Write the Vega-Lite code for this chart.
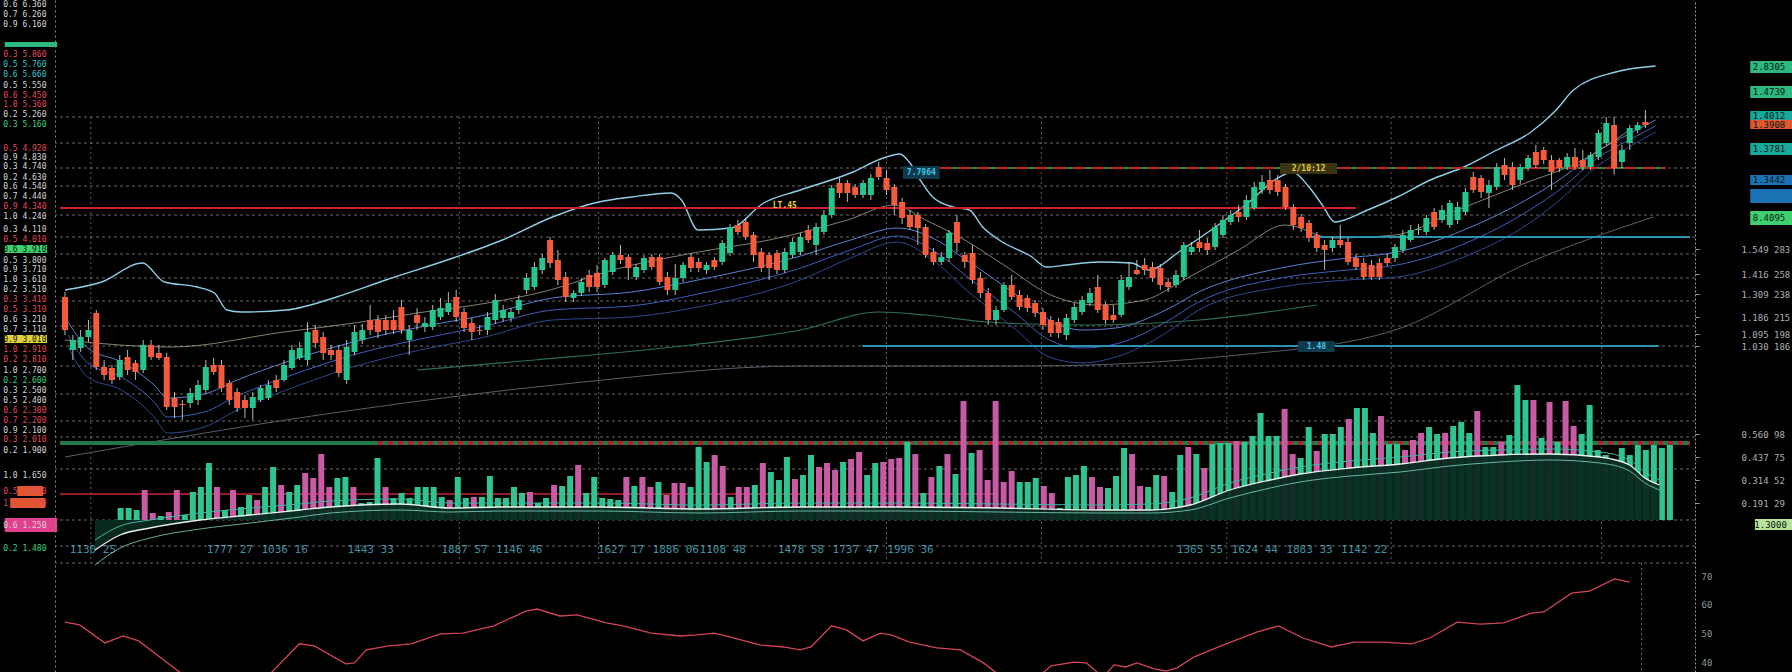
{
"$schema":"https://vega.github.io/schema/vega-lite/v6.json",
"width":1640,"height":672,
"autosize":{"type":"none"},
"padding":{"left":55,"right":97,"top":0,"bottom":0},
"background":"#000000",
"config":{"view":{"stroke":null},"axis":{"grid":false,"titleOpacity":0,"titleFontSize":1,"labelOverlap":false},"text":{"font":"DejaVu Sans Mono"}},
"datasets":{
"k":[
{"t":0,"o":223,"h":228,"l":185,"c":190},{"t":1,"o":170,"h":185,"l":160,"c":180},{"t":2,"o":172,"h":190,"l":168,"c":183},{"t":3,"o":183,"h":200,"l":178,"c":190},{"t":4,"o":207,"h":210,"l":150,"c":153},{"t":5,"o":153,"h":160,"l":140,"c":145},{"t":6,"o":152,"h":155,"l":136,"c":140},{"t":7,"o":143,"h":165,"l":140,"c":160},{"t":8,"o":163,"h":170,"l":145,"c":150},{"t":9,"o":157,"h":160,"l":140,"c":148},
{"t":10,"o":150,"h":180,"l":147,"c":175},{"t":11,"o":175,"h":180,"l":160,"c":163},{"t":12,"o":167,"h":175,"l":160,"c":162},{"t":13,"o":163,"h":167,"l":110,"c":113},{"t":14,"o":122,"h":128,"l":102,"c":113},{"t":15,"o":116,"h":120,"l":100,"c":115},{"t":16,"o":117,"h":132,"l":112,"c":127},{"t":17,"o":120,"h":140,"l":115,"c":135},{"t":18,"o":130,"h":160,"l":127,"c":153},{"t":19,"o":155,"h":162,"l":145,"c":148},
{"t":20,"o":155,"h":160,"l":128,"c":132},{"t":21,"o":137,"h":140,"l":115,"c":120},{"t":22,"o":128,"h":132,"l":108,"c":112},{"t":23,"o":120,"h":125,"l":102,"c":112},{"t":24,"o":112,"h":128,"l":100,"c":123},{"t":25,"o":120,"h":135,"l":118,"c":132},{"t":26,"o":122,"h":140,"l":120,"c":135},{"t":27,"o":140,"h":145,"l":128,"c":132},{"t":28,"o":140,"h":160,"l":138,"c":155},{"t":29,"o":152,"h":175,"l":150,"c":170},
{"t":30,"o":162,"h":178,"l":160,"c":172},{"t":31,"o":160,"h":198,"l":155,"c":188},{"t":32,"o":190,"h":195,"l":172,"c":177},{"t":33,"o":183,"h":188,"l":160,"c":167},{"t":34,"o":170,"h":175,"l":160,"c":165},{"t":35,"o":170,"h":175,"l":143,"c":147},{"t":36,"o":140,"h":180,"l":136,"c":173},{"t":37,"o":168,"h":195,"l":165,"c":188},{"t":38,"o":180,"h":196,"l":176,"c":190},{"t":39,"o":200,"h":215,"l":185,"c":190},
{"t":40,"o":200,"h":205,"l":182,"c":188},{"t":41,"o":200,"h":205,"l":185,"c":190},{"t":42,"o":200,"h":210,"l":186,"c":190},{"t":43,"o":213,"h":220,"l":186,"c":190},{"t":44,"o":180,"h":195,"l":165,"c":190},{"t":45,"o":205,"h":212,"l":190,"c":197},{"t":46,"o":193,"h":203,"l":188,"c":197},{"t":47,"o":193,"h":215,"l":190,"c":210},{"t":48,"o":203,"h":222,"l":200,"c":212},{"t":49,"o":208,"h":228,"l":205,"c":217},
{"t":50,"o":223,"h":230,"l":198,"c":203},{"t":51,"o":208,"h":212,"l":188,"c":192},{"t":52,"o":197,"h":202,"l":180,"c":188},{"t":53,"o":190,"h":195,"l":185,"c":189},{"t":54,"o":190,"h":208,"l":185,"c":203},{"t":55,"o":200,"h":226,"l":196,"c":220},{"t":56,"o":202,"h":215,"l":198,"c":210},{"t":57,"o":202,"h":212,"l":198,"c":208},{"t":58,"o":210,"h":225,"l":206,"c":220},{"t":59,"o":230,"h":247,"l":226,"c":242},
{"t":60,"o":233,"h":258,"l":230,"c":253},{"t":61,"o":250,"h":266,"l":246,"c":262},{"t":62,"o":280,"h":283,"l":252,"c":257},{"t":63,"o":260,"h":270,"l":235,"c":240},{"t":64,"o":243,"h":248,"l":218,"c":223},{"t":65,"o":222,"h":230,"l":218,"c":227},{"t":66,"o":227,"h":242,"l":224,"c":238},{"t":67,"o":245,"h":250,"l":228,"c":233},{"t":68,"o":247,"h":255,"l":228,"c":233},{"t":69,"o":235,"h":262,"l":232,"c":260},
{"t":70,"o":248,"h":268,"l":245,"c":265},{"t":71,"o":265,"h":275,"l":256,"c":260},{"t":72,"o":263,"h":266,"l":240,"c":252},{"t":73,"o":243,"h":256,"l":240,"c":253},{"t":74,"o":250,"h":265,"l":247,"c":262},{"t":75,"o":263,"h":266,"l":250,"c":253},{"t":76,"o":263,"h":266,"l":235,"c":238},{"t":77,"o":243,"h":248,"l":225,"c":230},{"t":78,"o":230,"h":256,"l":225,"c":242},{"t":79,"o":242,"h":258,"l":238,"c":255},
{"t":80,"o":263,"h":266,"l":248,"c":252},{"t":81,"o":258,"h":262,"l":248,"c":252},{"t":82,"o":250,"h":258,"l":246,"c":255},{"t":83,"o":260,"h":263,"l":250,"c":253},{"t":84,"o":258,"h":280,"l":255,"c":277},{"t":85,"o":267,"h":296,"l":264,"c":293},{"t":86,"o":295,"h":300,"l":285,"c":288},{"t":87,"o":298,"h":302,"l":280,"c":283},{"t":88,"o":285,"h":288,"l":258,"c":265},{"t":89,"o":268,"h":272,"l":248,"c":252},
{"t":90,"o":265,"h":268,"l":240,"c":252},{"t":91,"o":267,"h":270,"l":246,"c":250},{"t":92,"o":250,"h":272,"l":247,"c":268},{"t":93,"o":265,"h":282,"l":262,"c":278},{"t":94,"o":268,"h":287,"l":265,"c":283},{"t":95,"o":290,"h":295,"l":277,"c":280},{"t":96,"o":275,"h":297,"l":265,"c":293},{"t":97,"o":288,"h":310,"l":285,"c":305},{"t":98,"o":305,"h":335,"l":302,"c":332},{"t":99,"o":337,"h":342,"l":322,"c":327},
{"t":100,"o":337,"h":340,"l":318,"c":327},{"t":101,"o":333,"h":336,"l":322,"c":325},{"t":102,"o":325,"h":340,"l":322,"c":337},{"t":103,"o":325,"h":346,"l":320,"c":342},{"t":104,"o":353,"h":358,"l":340,"c":343},{"t":105,"o":342,"h":350,"l":325,"c":330},{"t":106,"o":333,"h":336,"l":305,"c":315},{"t":107,"o":318,"h":322,"l":296,"c":302},{"t":108,"o":305,"h":310,"l":290,"c":293},{"t":109,"o":305,"h":308,"l":275,"c":292},
{"t":110,"o":293,"h":296,"l":262,"c":265},{"t":111,"o":268,"h":272,"l":255,"c":258},{"t":112,"o":258,"h":268,"l":255,"c":263},{"t":113,"o":262,"h":290,"l":258,"c":287},{"t":114,"o":298,"h":305,"l":268,"c":277},{"t":115,"o":265,"h":268,"l":252,"c":258},{"t":116,"o":267,"h":275,"l":236,"c":240},{"t":117,"o":242,"h":248,"l":222,"c":227},{"t":118,"o":227,"h":232,"l":195,"c":200},{"t":119,"o":200,"h":214,"l":195,"c":210},
{"t":120,"o":210,"h":238,"l":208,"c":235},{"t":121,"o":235,"h":245,"l":220,"c":223},{"t":122,"o":225,"h":230,"l":210,"c":213},{"t":123,"o":222,"h":225,"l":208,"c":212},{"t":124,"o":217,"h":220,"l":203,"c":207},{"t":125,"o":208,"h":212,"l":190,"c":195},{"t":126,"o":200,"h":204,"l":183,"c":187},{"t":127,"o":198,"h":202,"l":182,"c":187},{"t":128,"o":185,"h":206,"l":180,"c":202},{"t":129,"o":200,"h":217,"l":197,"c":213},
{"t":130,"o":208,"h":224,"l":205,"c":220},{"t":131,"o":217,"h":232,"l":214,"c":227},{"t":132,"o":233,"h":245,"l":207,"c":210},{"t":133,"o":215,"h":218,"l":196,"c":200},{"t":134,"o":205,"h":215,"l":197,"c":200},{"t":135,"o":205,"h":245,"l":203,"c":240},{"t":136,"o":233,"h":258,"l":230,"c":243},{"t":137,"o":250,"h":260,"l":245,"c":246},{"t":138,"o":255,"h":262,"l":245,"c":250},{"t":139,"o":253,"h":258,"l":238,"c":242},
{"t":140,"o":252,"h":256,"l":230,"c":235},{"t":141,"o":238,"h":242,"l":228,"c":233},{"t":142,"o":235,"h":250,"l":232,"c":245},{"t":143,"o":243,"h":278,"l":240,"c":275},{"t":144,"o":268,"h":278,"l":265,"c":273},{"t":145,"o":278,"h":290,"l":268,"c":272},{"t":146,"o":277,"h":282,"l":265,"c":270},{"t":147,"o":273,"h":297,"l":270,"c":293},{"t":148,"o":285,"h":305,"l":282,"c":300},{"t":149,"o":298,"h":310,"l":295,"c":305},
{"t":150,"o":308,"h":315,"l":298,"c":303},{"t":151,"o":303,"h":325,"l":300,"c":320},{"t":152,"o":312,"h":338,"l":310,"c":333},{"t":153,"o":330,"h":345,"l":326,"c":338},{"t":154,"o":340,"h":350,"l":326,"c":330},{"t":155,"o":340,"h":345,"l":324,"c":328},{"t":156,"o":333,"h":336,"l":310,"c":313},{"t":157,"o":313,"h":316,"l":290,"c":295},{"t":158,"o":303,"h":306,"l":288,"c":292},{"t":159,"o":297,"h":300,"l":278,"c":282},
{"t":160,"o":285,"h":288,"l":268,"c":272},{"t":161,"o":275,"h":280,"l":250,"c":270},{"t":162,"o":272,"h":283,"l":268,"c":280},{"t":163,"o":280,"h":295,"l":272,"c":275},{"t":164,"o":278,"h":282,"l":255,"c":258},{"t":165,"o":262,"h":266,"l":250,"c":253},{"t":166,"o":257,"h":262,"l":240,"c":243},{"t":167,"o":255,"h":260,"l":240,"c":243},{"t":168,"o":257,"h":262,"l":240,"c":243},{"t":169,"o":262,"h":266,"l":254,"c":257},
{"t":170,"o":262,"h":276,"l":258,"c":273},{"t":171,"o":270,"h":290,"l":267,"c":285},{"t":172,"o":280,"h":295,"l":278,"c":290},{"t":173,"o":290,"h":296,"l":285,"c":291},{"t":174,"o":288,"h":305,"l":285,"c":302},{"t":175,"o":308,"h":312,"l":290,"c":293},{"t":176,"o":300,"h":315,"l":297,"c":310},{"t":177,"o":295,"h":320,"l":292,"c":317},{"t":178,"o":300,"h":318,"l":296,"c":313},{"t":179,"o":308,"h":332,"l":305,"c":328},
{"t":180,"o":343,"h":348,"l":327,"c":330},{"t":181,"o":342,"h":345,"l":322,"c":328},{"t":182,"o":327,"h":340,"l":312,"c":335},{"t":183,"o":333,"h":357,"l":330,"c":353},{"t":184,"o":355,"h":362,"l":340,"c":345},{"t":185,"o":353,"h":358,"l":330,"c":335},{"t":186,"o":340,"h":356,"l":336,"c":353},{"t":187,"o":352,"h":365,"l":349,"c":362},{"t":188,"o":368,"h":375,"l":352,"c":355},{"t":189,"o":370,"h":373,"l":356,"c":360},
{"t":190,"o":360,"h":365,"l":330,"c":348},{"t":191,"o":360,"h":362,"l":348,"c":352},{"t":192,"o":353,"h":367,"l":350,"c":363},{"t":193,"o":363,"h":372,"l":350,"c":353},{"t":194,"o":360,"h":370,"l":350,"c":353},{"t":195,"o":353,"h":368,"l":350,"c":365},{"t":196,"o":363,"h":390,"l":360,"c":387},{"t":197,"o":377,"h":403,"l":375,"c":397},{"t":198,"o":395,"h":403,"l":345,"c":352},{"t":199,"o":358,"h":375,"l":352,"c":370},
{"t":200,"o":377,"h":395,"l":370,"c":392},{"t":201,"o":390,"h":398,"l":387,"c":395},{"t":202,"o":398,"h":410,"l":392,"c":395}
],
"vol":[
{"i":1,"v":1200,"d":"g"},{"i":2,"v":1200,"d":"g"},{"i":3,"v":1000,"d":"g"},{"i":4,"v":3000,"d":"m"},{"i":5,"v":700,"d":"m"},{"i":6,"v":400,"d":"g"},{"i":7,"v":800,"d":"m"},{"i":8,"v":3000,"d":"m"},{"i":9,"v":500,"d":"g"},{"i":10,"v":2800,"d":"g"},
{"i":11,"v":3300,"d":"g"},{"i":12,"v":5700,"d":"g"},{"i":13,"v":3300,"d":"m"},{"i":14,"v":1000,"d":"g"},{"i":15,"v":3000,"d":"m"},{"i":16,"v":1300,"d":"g"},{"i":17,"v":2500,"d":"g"},{"i":18,"v":2000,"d":"m"},{"i":19,"v":3300,"d":"g"},{"i":20,"v":5300,"d":"g"},
{"i":21,"v":3500,"d":"m"},{"i":22,"v":2800,"d":"g"},{"i":23,"v":3500,"d":"g"},{"i":24,"v":4700,"d":"m"},{"i":25,"v":4200,"d":"m"},{"i":26,"v":6600,"d":"m"},{"i":27,"v":3300,"d":"m"},{"i":28,"v":4200,"d":"g"},{"i":29,"v":4300,"d":"g"},{"i":30,"v":3300,"d":"m"},
{"i":31,"v":1700,"d":"g"},{"i":32,"v":1800,"d":"g"},{"i":33,"v":6200,"d":"g"},{"i":34,"v":3300,"d":"m"},{"i":35,"v":2200,"d":"g"},{"i":36,"v":2700,"d":"g"},{"i":37,"v":2200,"d":"g"},{"i":38,"v":3300,"d":"g"},{"i":39,"v":3300,"d":"g"},{"i":40,"v":3300,"d":"g"},
{"i":41,"v":2300,"d":"g"},{"i":42,"v":2000,"d":"m"},{"i":43,"v":4300,"d":"g"},{"i":44,"v":2200,"d":"g"},{"i":45,"v":2300,"d":"m"},{"i":46,"v":2300,"d":"g"},{"i":47,"v":4400,"d":"g"},{"i":48,"v":2200,"d":"g"},{"i":49,"v":2200,"d":"g"},{"i":50,"v":3300,"d":"g"},
{"i":51,"v":2700,"d":"g"},{"i":52,"v":2800,"d":"m"},{"i":53,"v":1700,"d":"g"},{"i":54,"v":2200,"d":"g"},{"i":55,"v":3500,"d":"m"},{"i":56,"v":3400,"d":"g"},{"i":57,"v":4400,"d":"g"},{"i":58,"v":5500,"d":"m"},{"i":59,"v":2700,"d":"g"},{"i":60,"v":4300,"d":"g"},
{"i":61,"v":2200,"d":"g"},{"i":62,"v":2100,"d":"g"},{"i":63,"v":2000,"d":"g"},{"i":64,"v":4300,"d":"m"},{"i":65,"v":3400,"d":"g"},{"i":66,"v":4300,"d":"m"},{"i":67,"v":3300,"d":"m"},{"i":68,"v":3800,"d":"g"},{"i":69,"v":2500,"d":"m"},{"i":70,"v":3700,"d":"m"},
{"i":71,"v":3700,"d":"m"},{"i":72,"v":3300,"d":"g"},{"i":73,"v":7300,"d":"g"},{"i":74,"v":5800,"d":"g"},{"i":75,"v":6500,"d":"m"},{"i":76,"v":5400,"d":"m"},{"i":77,"v":2300,"d":"g"},{"i":78,"v":3300,"d":"m"},{"i":79,"v":3300,"d":"m"},{"i":80,"v":3500,"d":"g"},
{"i":81,"v":5700,"d":"m"},{"i":82,"v":4800,"d":"g"},{"i":83,"v":4000,"d":"g"},{"i":84,"v":6300,"d":"g"},{"i":85,"v":4100,"d":"m"},{"i":86,"v":4500,"d":"g"},{"i":87,"v":6500,"d":"g"},{"i":88,"v":5300,"d":"m"},{"i":89,"v":5700,"d":"m"},{"i":90,"v":5000,"d":"m"},
{"i":91,"v":5800,"d":"g"},{"i":92,"v":6100,"d":"m"},{"i":93,"v":6800,"d":"m"},{"i":94,"v":4500,"d":"g"},{"i":95,"v":5700,"d":"g"},{"i":96,"v":5800,"d":"m"},{"i":97,"v":6100,"d":"m"},{"i":98,"v":6200,"d":"m"},{"i":99,"v":7800,"d":"g"},{"i":100,"v":6600,"d":"m"},
{"i":101,"v":2700,"d":"g"},{"i":102,"v":4300,"d":"m"},{"i":103,"v":5400,"d":"g"},{"i":104,"v":6600,"d":"m"},{"i":105,"v":4600,"d":"g"},{"i":106,"v":11900,"d":"m"},{"i":107,"v":6700,"d":"g"},{"i":108,"v":7000,"d":"m"},{"i":109,"v":4000,"d":"m"},{"i":110,"v":11900,"d":"m"},
{"i":111,"v":3800,"d":"m"},{"i":112,"v":4900,"d":"m"},{"i":113,"v":3800,"d":"g"},{"i":114,"v":3800,"d":"g"},{"i":115,"v":4200,"d":"g"},{"i":116,"v":3400,"d":"m"},{"i":117,"v":2700,"d":"m"},{"i":118,"v":1200,"d":"g"},{"i":119,"v":4300,"d":"g"},{"i":120,"v":4500,"d":"g"},
{"i":121,"v":5400,"d":"g"},{"i":122,"v":4300,"d":"m"},{"i":123,"v":3300,"d":"m"},{"i":124,"v":3200,"d":"g"},{"i":125,"v":4400,"d":"g"},{"i":126,"v":7200,"d":"g"},{"i":127,"v":6600,"d":"m"},{"i":128,"v":3400,"d":"m"},{"i":129,"v":3300,"d":"g"},{"i":130,"v":4500,"d":"g"},
{"i":131,"v":4400,"d":"m"},{"i":132,"v":2800,"d":"g"},{"i":133,"v":6500,"d":"g"},{"i":134,"v":7300,"d":"m"},{"i":135,"v":6600,"d":"g"},{"i":136,"v":5200,"d":"m"},{"i":137,"v":7600,"d":"g"},{"i":138,"v":7700,"d":"g"},{"i":139,"v":7700,"d":"g"},{"i":140,"v":7900,"d":"m"},
{"i":141,"v":7800,"d":"g"},{"i":142,"v":8400,"d":"g"},{"i":143,"v":10700,"d":"g"},{"i":144,"v":8400,"d":"g"},{"i":145,"v":8400,"d":"g"},{"i":146,"v":11100,"d":"m"},{"i":147,"v":6600,"d":"m"},{"i":148,"v":6200,"d":"g"},{"i":149,"v":9300,"d":"g"},{"i":150,"v":6900,"d":"m"},
{"i":151,"v":8600,"d":"g"},{"i":152,"v":8600,"d":"g"},{"i":153,"v":9300,"d":"g"},{"i":154,"v":10100,"d":"m"},{"i":155,"v":11200,"d":"g"},{"i":156,"v":11200,"d":"g"},{"i":157,"v":8700,"d":"g"},{"i":158,"v":10400,"d":"m"},{"i":159,"v":7600,"d":"g"},{"i":160,"v":7600,"d":"g"},
{"i":161,"v":7000,"d":"m"},{"i":162,"v":8000,"d":"m"},{"i":163,"v":8700,"d":"m"},{"i":164,"v":9300,"d":"g"},{"i":165,"v":8600,"d":"g"},{"i":166,"v":8700,"d":"m"},{"i":167,"v":9400,"d":"g"},{"i":168,"v":9800,"d":"g"},{"i":169,"v":8700,"d":"g"},{"i":170,"v":10900,"d":"m"},
{"i":171,"v":7300,"d":"g"},{"i":172,"v":7300,"d":"g"},{"i":173,"v":7800,"d":"m"},{"i":174,"v":8500,"d":"g"},{"i":175,"v":13500,"d":"g"},{"i":176,"v":12000,"d":"g"},{"i":177,"v":12000,"d":"m"},{"i":178,"v":8200,"d":"g"},{"i":179,"v":11800,"d":"m"},{"i":180,"v":7800,"d":"g"},
{"i":181,"v":11900,"d":"m"},{"i":182,"v":9400,"d":"m"},{"i":183,"v":8600,"d":"g"},{"i":184,"v":11500,"d":"g"},{"i":185,"v":7000,"d":"g"},{"i":186,"v":6500,"d":"g"},{"i":187,"v":6000,"d":"g"},{"i":188,"v":7200,"d":"g"},{"i":189,"v":6500,"d":"g"},{"i":190,"v":7500,"d":"g"},
{"i":191,"v":7000,"d":"g"},{"i":192,"v":7500,"d":"g"},{"i":193,"v":7200,"d":"g"},{"i":194,"v":7500,"d":"g"}
],
"vma":[
{"i":-1.6,"a":-3000,"b":-2000,"c":-4500},{"i":1.5,"a":-1500,"b":-600,"c":-2800},{"i":5.2,"a":-800,"b":0,"c":-1800},{"i":11.4,"a":0,"b":700,"c":-900},{"i":17.6,"a":500,"b":1200,"c":-300},{"i":23.8,"a":1000,"b":1600,"c":300},{"i":27.5,"a":1300,"b":1900,"c":700},{"i":36.2,"a":1600,"b":2100,"c":1000},{"i":42.3,"a":1200,"b":1700,"c":800},{"i":48.5,"a":1300,"b":1700,"c":900},{"i":60.9,"a":1300,"b":1700,"c":900},{"i":73.3,"a":1100,"b":1500,"c":700},{"i":85.7,"a":1300,"b":1700,"c":900},{"i":98.1,"a":1300,"b":1700,"c":900},{"i":110.4,"a":1200,"b":1600,"c":800},{"i":122.8,"a":1000,"b":1500,"c":700},{"i":129,"a":1000,"b":1600,"c":700},{"i":134,"a":1500,"b":2200,"c":1000},{"i":138.9,"a":3000,"b":3700,"c":2200},{"i":143.9,"a":4000,"b":4700,"c":3200},{"i":147.6,"a":4600,"b":5300,"c":3800},{"i":153.8,"a":5200,"b":5900,"c":4400},{"i":160,"a":5600,"b":6300,"c":4800},{"i":166.1,"a":6200,"b":6800,"c":5400},{"i":172.3,"a":6500,"b":7000,"c":5800},{"i":178.5,"a":6600,"b":7100,"c":6000},{"i":184.7,"a":6300,"b":6800,"c":5700},{"i":188.4,"a":5500,"b":6000,"c":4900},{"i":190.3,"a":4200,"b":4800,"c":3700},{"i":192.1,"a":3500,"b":4000,"c":3000}
],
"ub":[
{"t":0,"p":230},{"t":4.7,"p":238},{"t":9.9,"p":257},{"t":12.7,"p":238},{"t":16.9,"p":233},{"t":19.1,"p":227},{"t":20.7,"p":210},{"t":22.5,"p":208},{"t":28.3,"p":210},{"t":34.7,"p":223},{"t":41,"p":240},{"t":49.6,"p":262},{"t":55.9,"p":280},{"t":62.3,"p":303},{"t":68.2,"p":318},{"t":72.4,"p":323},{"t":77.5,"p":327},{"t":78.8,"p":320},{"t":80.9,"p":290},{"t":85.1,"p":292},{"t":89.3,"p":317},{"t":94,"p":330},{"t":100.4,"p":347},{"t":104.6,"p":362},{"t":106.7,"p":366},{"t":108,"p":357},{"t":109.3,"p":340},{"t":110.9,"p":323},{"t":113.5,"p":313},{"t":115.6,"p":310},{"t":117.3,"p":293},{"t":119.4,"p":280},{"t":123.6,"p":263},{"t":125.4,"p":253},{"t":128,"p":255},{"t":132.1,"p":258},{"t":136.3,"p":257},{"t":138.5,"p":250},{"t":142.7,"p":270},{"t":146.5,"p":290},{"t":151.2,"p":317},{"t":155,"p":342},{"t":156.9,"p":348},{"t":158.8,"p":335},{"t":160.7,"p":315},{"t":162.3,"p":298},{"t":166.5,"p":310},{"t":170.3,"p":323},{"t":174.5,"p":340},{"t":178.8,"p":353},{"t":183,"p":370},{"t":187.2,"p":387},{"t":190.6,"p":410},{"t":192.8,"p":430},{"t":198.2,"p":448},{"t":203.3,"p":454}
],
"lb":[
{"t":0.4,"a":173,"b":185,"c":198},{"t":2.9,"a":143,"b":157,"c":172},{"t":7.2,"a":130,"b":143,"c":158},{"t":11.4,"a":103,"b":118,"c":135},{"t":13.1,"a":87,"b":103,"c":122},{"t":17.8,"a":93,"b":108,"c":126},{"t":22,"a":110,"b":124,"c":140},{"t":28.3,"a":130,"b":143,"c":158},{"t":36.8,"a":153,"b":165,"c":178},{"t":45.4,"a":170,"b":181,"c":193},{"t":53.7,"a":183,"b":194,"c":205},{"t":62.3,"a":200,"b":210,"c":222},{"t":72.4,"a":203,"b":214,"c":228},{"t":80.9,"a":213,"b":226,"c":240},{"t":94,"a":240,"b":252,"c":264},{"t":100.4,"a":262,"b":270,"c":280},{"t":106.4,"a":278,"b":284,"c":292},{"t":110.9,"a":260,"b":270,"c":282},{"t":115.2,"a":230,"b":244,"c":260},{"t":121.6,"a":190,"b":206,"c":225},{"t":125.8,"a":163,"b":180,"c":200},{"t":130,"a":157,"b":172,"c":190},{"t":134.3,"a":163,"b":176,"c":192},{"t":140.7,"a":187,"b":198,"c":210},{"t":144.9,"a":210,"b":218,"c":228},{"t":155.4,"a":233,"b":242,"c":252},{"t":163.9,"a":240,"b":250,"c":262},{"t":170.3,"a":243,"b":255,"c":268},{"t":178.8,"a":263,"b":276,"c":290},{"t":187.2,"a":297,"b":310,"c":322},{"t":191.5,"a":323,"b":333,"c":343},{"t":195.7,"a":353,"b":361,"c":368},{"t":199.9,"a":373,"b":380,"c":386},{"t":203.3,"a":388,"b":394,"c":400}
],
"mid":[
{"t":0,"p":180},{"t":7,"p":175},{"t":13.6,"p":173},{"t":28,"p":188},{"t":37,"p":197},{"t":45,"p":207},{"t":54,"p":217},{"t":62,"p":230},{"t":70,"p":250},{"t":81,"p":268},{"t":90,"p":280},{"t":100,"p":300},{"t":106,"p":315},{"t":110,"p":300},{"t":115,"p":280},{"t":120,"p":255},{"t":126,"p":225},{"t":132,"p":215},{"t":138,"p":220},{"t":143,"p":240},{"t":150,"p":270},{"t":156,"p":295},{"t":162,"p":282},{"t":170,"p":285},{"t":178,"p":310},{"t":186,"p":335},{"t":194,"p":360},{"t":200,"p":390}
],
"lma":[
{"t":0,"p":63},{"t":36,"p":109},{"t":65,"p":137},{"t":94,"p":154},{"t":123,"p":154},{"t":150,"p":165},{"t":170,"p":190},{"t":187,"p":257},{"t":203,"p":303}
],
"gma":[
{"t":45,"p":150},{"t":60,"p":160},{"t":80,"p":175},{"t":94,"p":190},{"t":104,"p":208},{"t":110,"p":205},{"t":118,"p":198},{"t":130,"p":195},{"t":145,"p":200},{"t":160,"p":215}
],
"osc":[
{"t":0.6,"v":54.1},{"t":2.5,"v":53.1},{"t":5.7,"v":46.9},{"t":8.0,"v":49.3},{"t":10.0,"v":47.6},{"t":13.5,"v":40.3},{"t":15.6,"v":36},{"t":21,"v":33},{"t":26.6,"v":36},{"t":30.4,"v":46.6},{"t":32.3,"v":45.9},{"t":36.3,"v":39.7},{"t":37.4,"v":40},{"t":38.9,"v":44.5},{"t":41.8,"v":45.9},{"t":44.6,"v":46.6},{"t":48.3,"v":50},{"t":51.2,"v":50.3},{"t":55.1,"v":52.8},{"t":59.2,"v":57.9},{"t":60.6,"v":58.6},{"t":63.5,"v":56.2},{"t":65.7,"v":56.6},{"t":69.4,"v":53.8},{"t":71.5,"v":52.8},{"t":75.1,"v":50.3},{"t":78.8,"v":49.3},{"t":80.9,"v":49.7},{"t":83.1,"v":50.3},{"t":86.0,"v":48.3},{"t":88.9,"v":46.2},{"t":91.9,"v":45.5},{"t":94.0,"v":44.5},{"t":95.4,"v":45.5},{"t":98.0,"v":52.8},{"t":99.9,"v":51.4},{"t":102.0,"v":47.6},{"t":104.2,"v":50.3},{"t":105.6,"v":49.7},{"t":107.9,"v":47.2},{"t":111.4,"v":45.2},{"t":114.4,"v":44.5},{"t":117.3,"v":40},{"t":120.2,"v":34},{"t":123.8,"v":34},{"t":125.9,"v":39},{"t":128.8,"v":40.3},{"t":130.4,"v":40},{"t":132.5,"v":35},{"t":133.9,"v":39.3},{"t":135.4,"v":38.6},{"t":136.8,"v":40},{"t":139.0,"v":37.9},{"t":140.5,"v":37.2},{"t":141.9,"v":38.3},{"t":144.1,"v":42.1},{"t":147.8,"v":46.2},{"t":152.1,"v":50.7},{"t":154.8,"v":52.8},{"t":157.9,"v":48.6},{"t":161.5,"v":45.5},{"t":164.4,"v":47.2},{"t":168.1,"v":47.2},{"t":171.7,"v":46.6},{"t":174.0,"v":48.6},{"t":177.5,"v":54.1},{"t":180.4,"v":53.4},{"t":183.4,"v":53.8},{"t":186.9,"v":57.2},{"t":188.5,"v":57.6},{"t":192.0,"v":64.1},{"t":194.3,"v":64.8},{"t":197.5,"v":69},{"t":199.4,"v":67.9}
],
"tags":[
{"t0":215.4,"t1":221,"p0":459,"p1":447,"tm":217.8,"pm":453,"k":"g","s":"2.8305"},
{"t0":215.4,"t1":221,"p0":434,"p1":422,"tm":217.8,"pm":428,"k":"g","s":"1.4739"},
{"t0":215.4,"t1":221,"p0":409,"p1":400,"tm":217.8,"pm":404.5,"k":"t","s":"1.4012"},
{"t0":215.4,"t1":221,"p0":400,"p1":391,"tm":217.8,"pm":395.5,"k":"r","s":"1.3908"},
{"t0":215.4,"t1":221,"p0":377,"p1":365,"tm":217.8,"pm":371,"k":"t","s":"1.3781"},
{"t0":215.4,"t1":221,"p0":345,"p1":335,"tm":217.8,"pm":340,"k":"b","s":"1.3442"},
{"t0":215.4,"t1":221,"p0":331,"p1":317,"tm":217.8,"pm":324,"k":"b","s":""},
{"t0":215.4,"t1":221,"p0":309,"p1":295,"tm":217.8,"pm":302,"k":"l","s":"8.4095"},
{"t0":216,"t1":221,"p0":1,"p1":-10,"tm":218,"pm":-4.5,"k":"p","s":"1.3000"},
{"t0":-7.7,"t1":-1.0,"p0":478,"p1":473,"tm":-5,"pm":475.5,"k":"g","s":""},
{"t0":-7.7,"t1":-2.3,"p0":275,"p1":267,"tm":-5,"pm":271,"k":"l","s":""},
{"t0":-7.7,"t1":-2.3,"p0":185,"p1":177,"tm":-5,"pm":181,"k":"y","s":""},
{"t0":-6.1,"t1":-2.8,"p0":34,"p1":24,"tm":-5,"pm":29,"k":"r","s":""},
{"t0":-7.0,"t1":-2.5,"p0":22,"p1":12,"tm":-5,"pm":17,"k":"r","s":""},
{"t0":-7.7,"t1":-1.0,"p0":2,"p1":-12,"tm":-5,"pm":-5,"k":"m","s":""}
],
"boxes":[
{"t0":107.1,"t1":111.8,"p0":354,"p1":341,"tm":109.45,"pm":347.5,"k":"c","s":"7.7964"},
{"t0":155.3,"t1":162.6,"p0":357,"p1":346,"tm":158.95,"pm":351.5,"k":"y","s":"2/10:12"},
{"t0":157.6,"t1":162.3,"p0":179,"p1":168,"tm":159.95,"pm":173.5,"k":"c","s":"1.48"},
{"t0":92,"t1":92,"p0":314,"p1":314,"tm":92,"pm":314,"k":"y","s":"LT.45"}
]
},
"layer":[
{"layer":[
{"data":{"values":[{"p":403},{"p":377},{"p":352},{"p":334},{"p":305},{"p":283},{"p":266},{"p":242},{"p":219},{"p":194},{"p":174},{"p":154},{"p":126},{"p":99},{"p":83},{"p":51},{"p":0},{"p":-26},{"p":-43}]},
 "mark":{"type":"rule","color":"#cfcfcf","strokeDash":[3,3],"strokeWidth":1,"opacity":0.5},
 "encoding":{"y":{"field":"p","type":"quantitative","scale":{"domain":[-152,520]},"title":null}}},
{"data":{"values":[{"t":3.3},{"t":50.4},{"t":68.2},{"t":105},{"t":124.8},{"t":148.5},{"t":169.5},{"t":196.4}]},
 "mark":{"type":"rule","color":"#a0a0a0","strokeDash":[2,3],"opacity":0.6},
 "encoding":{"x":{"field":"t","type":"quantitative","scale":{"domain":[-0.64,207.7]},"title":null},"y":{"datum":403,"type":"quantitative","scale":{"domain":[-152,520]}},"y2":{"datum":-43}}},
{"data":{"values":[{"t":201.5}]},
 "mark":{"type":"rule","color":"#a0a0a0","strokeDash":[2,3],"opacity":0.6},
 "encoding":{"x":{"field":"t","type":"quantitative","scale":{"domain":[-0.64,207.7]},"title":null},"y":{"datum":-43,"type":"quantitative","scale":{"domain":[-152,520]}},"y2":{"datum":-152}}},
{"data":{"name":"lma"},"mark":{"type":"line","color":"#56606c","strokeWidth":1,"interpolate":"monotone"},
 "encoding":{"x":{"field":"t","type":"quantitative","scale":{"domain":[-0.64,207.7]},"title":null},"y":{"field":"p","type":"quantitative","scale":{"domain":[-152,520]},"title":null}}},
{"data":{"name":"gma"},"mark":{"type":"line","color":"#2d6e50","strokeWidth":1.2,"interpolate":"monotone"},
 "encoding":{"x":{"field":"t","type":"quantitative","scale":{"domain":[-0.64,207.7]},"title":null},"y":{"field":"p","type":"quantitative","scale":{"domain":[-152,520]},"title":null}}},
{"data":{"name":"lb"},"mark":{"type":"line","color":"#2c4890","strokeWidth":1,"interpolate":"monotone"},
 "encoding":{"x":{"field":"t","type":"quantitative","scale":{"domain":[-0.64,207.7]},"title":null},"y":{"field":"a","type":"quantitative","scale":{"domain":[-152,520]},"title":null}}},
{"data":{"name":"lb"},"mark":{"type":"line","color":"#3d5fbc","strokeWidth":1,"interpolate":"monotone"},
 "encoding":{"x":{"field":"t","type":"quantitative","scale":{"domain":[-0.64,207.7]},"title":null},"y":{"field":"b","type":"quantitative","scale":{"domain":[-152,520]},"title":null}}},
{"data":{"name":"lb"},"mark":{"type":"line","color":"#5a80d0","strokeWidth":1,"interpolate":"monotone"},
 "encoding":{"x":{"field":"t","type":"quantitative","scale":{"domain":[-0.64,207.7]},"title":null},"y":{"field":"c","type":"quantitative","scale":{"domain":[-152,520]},"title":null}}},
{"data":{"name":"mid"},"mark":{"type":"line","color":"#b8b49a","strokeWidth":0.9,"opacity":0.8,"interpolate":"monotone"},
 "encoding":{"x":{"field":"t","type":"quantitative","scale":{"domain":[-0.64,207.7]},"title":null},"y":{"field":"p","type":"quantitative","scale":{"domain":[-152,520]},"title":null}}},
{"data":{"name":"ub"},"mark":{"type":"line","color":"#8ecfe6","strokeWidth":1.4,"interpolate":"monotone"},
 "encoding":{"x":{"field":"t","type":"quantitative","scale":{"domain":[-0.64,207.7]},"title":null},"y":{"field":"p","type":"quantitative","scale":{"domain":[-152,520]},"title":null}}},
{"data":{"values":[{"t0":-0.64,"t1":165,"p":312}]},"mark":{"type":"rule","color":"#d0202a","strokeWidth":2.2},
 "encoding":{"x":{"field":"t0","type":"quantitative","scale":{"domain":[-0.64,207.7]},"title":null},"x2":{"field":"t1"},"y":{"field":"p","type":"quantitative","scale":{"domain":[-152,520]},"title":null}}},
{"data":{"values":[{"t0":111.8,"t1":204.6,"p":352}]},"mark":{"type":"rule","color":"#2a8a3a","strokeWidth":2},
 "encoding":{"x":{"field":"t0","type":"quantitative","scale":{"domain":[-0.64,207.7]},"title":null},"x2":{"field":"t1"},"y":{"field":"p","type":"quantitative","scale":{"domain":[-152,520]},"title":null}}},
{"data":{"values":[{"t0":111.8,"t1":204.6,"p":352}]},"mark":{"type":"rule","color":"#c41e2a","strokeWidth":2,"strokeDash":[12,7]},
 "encoding":{"x":{"field":"t0","type":"quantitative","scale":{"domain":[-0.64,207.7]},"title":null},"x2":{"field":"t1"},"y":{"field":"p","type":"quantitative","scale":{"domain":[-152,520]},"title":null}}},
{"data":{"values":[{"t0":101.9,"t1":203.7,"p":174},{"t0":159.3,"t1":207.7,"p":283}]},"mark":{"type":"rule","color":"#2e8fb0","strokeWidth":2},
 "encoding":{"x":{"field":"t0","type":"quantitative","scale":{"domain":[-0.64,207.7]},"title":null},"x2":{"field":"t1"},"y":{"field":"p","type":"quantitative","scale":{"domain":[-152,520]},"title":null}}},
{"data":{"values":[{"t0":-0.64,"t1":207.7,"p":77}]},"mark":{"type":"rule","color":"#1f7a45","strokeWidth":4},
 "encoding":{"x":{"field":"t0","type":"quantitative","scale":{"domain":[-0.64,207.7]},"title":null},"x2":{"field":"t1"},"y":{"field":"p","type":"quantitative","scale":{"domain":[-152,520]},"title":null}}},
{"data":{"values":[{"t0":40,"t1":207.7,"p":77}]},"mark":{"type":"rule","color":"#b51f2d","strokeWidth":4,"strokeDash":[5,5]},
 "encoding":{"x":{"field":"t0","type":"quantitative","scale":{"domain":[-0.64,207.7]},"title":null},"x2":{"field":"t1"},"y":{"field":"p","type":"quantitative","scale":{"domain":[-152,520]},"title":null}}},
{"data":{"values":[{"t0":-0.64,"t1":119,"p":26}]},"mark":{"type":"rule","color":"#b0202a","strokeWidth":2,"opacity":0.85},
 "encoding":{"x":{"field":"t0","type":"quantitative","scale":{"domain":[-0.64,207.7]},"title":null},"x2":{"field":"t1"},"y":{"field":"p","type":"quantitative","scale":{"domain":[-152,520]},"title":null}}},
{"data":{"name":"k"},"mark":{"type":"rule","color":"#d8d8cc","opacity":0.85,"strokeWidth":1},
 "encoding":{
  "x":{"field":"t","type":"quantitative","scale":{"domain":[-0.64,207.7]},"title":null,
   "axis":{"orient":"bottom","offset":-132,"values":[3.5,21,28,39,51,58,71,78,84,94,101,108,145,152,159,166],"labelExpr":"'1' + format(datum.value*37 % 1000, '03d') + ' ' + format(datum.value*7 % 60, '02d')","labelColor":"#3e8fa2","labelFontSize":11,"labelFont":"DejaVu Sans Mono","domain":false,"ticks":false,"labelPadding":3,"grid":false,"labelOverlap":false,"labelFlush":false,"title":null}},
  "y":{"field":"l","type":"quantitative","scale":{"domain":[-152,520]},"title":null,
   "axis":{"orient":"right","values":[271,246,226,203,186,174,86,63,40,17],"labelExpr":"format(datum.value/187+0.1,'.3f') + ' ' + format(datum.value+12,'d')","labelColor":"#a8b2b2","labelFontSize":9,"labelFont":"DejaVu Sans Mono","labelPadding":42,"labelOverlap":false,"domain":true,"domainColor":"#9a9a9a","domainDash":[2,2],"ticks":true,"tickSize":4,"tickColor":"#9a9a9a","grid":false,"title":null}},
  "y2":{"field":"h"}}},
{"data":{"name":"k"},"mark":{"type":"bar","size":6},
 "encoding":{"x":{"field":"t","type":"quantitative","scale":{"domain":[-0.64,207.7]},"title":null},"y":{"field":"o","type":"quantitative","scale":{"domain":[-152,520]},"title":null},"y2":{"field":"c"},
  "color":{"condition":{"test":"datum.c >= datum.o","value":"#26c48e"},"value":"#f45a3c"}}},
{"data":{"name":"tags"},"mark":{"type":"rect"},
 "encoding":{"x":{"field":"t0","type":"quantitative","scale":{"domain":[-0.64,207.7]},"title":null},"x2":{"field":"t1"},"y":{"field":"p0","type":"quantitative","scale":{"domain":[-152,520]},"title":null},"y2":{"field":"p1"},
  "color":{"field":"k","type":"nominal","scale":{"domain":["g","t","r","b","l","p","y","m","c"],"range":["#2cb87e","#19a89c","#e2572e","#1b72b4","#3fcf6f","#b9e29a","#e2cf3a","#e23f8f","#46c6e6"]},"legend":null}}},
{"data":{"name":"tags"},"mark":{"type":"text","font":"DejaVu Sans Mono","fontSize":9,"color":"#041a10"},
 "encoding":{"x":{"field":"tm","type":"quantitative","scale":{"domain":[-0.64,207.7]},"title":null},"y":{"field":"pm","type":"quantitative","scale":{"domain":[-152,520]},"title":null},"text":{"field":"s"}}},
{"data":{"name":"boxes"},"mark":{"type":"rect"},
 "encoding":{"x":{"field":"t0","type":"quantitative","scale":{"domain":[-0.64,207.7]},"title":null},"x2":{"field":"t1"},"y":{"field":"p0","type":"quantitative","scale":{"domain":[-152,520]},"title":null},"y2":{"field":"p1"},
  "fill":{"field":"k","type":"nominal","scale":{"domain":["c","y"],"range":["#0f3a4c","#3b3312"]},"legend":null}}},
{"data":{"name":"boxes"},"mark":{"type":"text","font":"DejaVu Sans Mono","fontSize":8,"fontWeight":"bold"},
 "encoding":{"x":{"field":"tm","type":"quantitative","scale":{"domain":[-0.64,207.7]},"title":null},"y":{"field":"pm","type":"quantitative","scale":{"domain":[-152,520]},"title":null},"text":{"field":"s"},
  "color":{"field":"k","type":"nominal","scale":{"domain":["g","t","r","b","l","p","y","m","c"],"range":["#2cb87e","#19a89c","#e2572e","#1b72b4","#3fcf6f","#b9e29a","#e2cf3a","#e23f8f","#46c6e6"]},"legend":null}}}
]},
{"data":{"name":"vol"},"mark":{"type":"bar","size":6},
 "encoding":{"x":{"field":"i","type":"quantitative","scale":{"domain":[-6.55,196.5]},"axis":null,"title":null},
  "y":{"field":"v","type":"quantitative","scale":{"domain":[-15200,52000]},"title":null,
   "axis":{"orient":"left","values":[51600,50600,49600,46600,45600,44600,43500,42500,41600,40600,39600,37200,36300,35400,34300,33400,32400,31400,30400,29100,28100,27100,26000,25100,24100,23100,22100,21100,20100,19100,18100,17100,16100,15000,14000,13000,12000,11000,10000,9000,8100,7000,4500,2900,1700,-500,-2800],
    "labelExpr":"format((abs(datum.value) % 7) * 0.13 + 0.2, '.1f') + ' ' + format(abs(datum.value)/10000 + 1.2, '.3f')",
    "labelColor":{"condition":[{"test":"indexof([46600,42500,41600,37200,31400,28100,22100,21100,17100,16100,11000,10000,8100,2900,1700], datum.value) >= 0","value":"#e2485a"},{"test":"indexof([39600,14000,-2800], datum.value) >= 0","value":"#3ed07e"},{"test":"indexof([45600,44600], datum.value) >= 0","value":"#3cc0c8"},{"test":"indexof([27100,18100], datum.value) >= 0","value":"#10200a"}],"value":"#d4d8d6"},
    "labelFontSize":8,"labelFont":"DejaVu Sans Mono","labelPadding":9,"labelOverlap":false,"labelFlush":false,"labelBound":false,"domain":true,"domainColor":"#8a8a8a","domainDash":[2,3],"ticks":false,"grid":false,"zindex":1,"title":null}},
  "color":{"condition":{"test":"datum.d == 'g'","value":"#2fc490"},"value":"#c95aa6"}}},
{"layer":[
{"data":{"name":"vma"},"mark":{"type":"area","color":"#0a2a20","opacity":0.95,"interpolate":"monotone"},
 "encoding":{"x":{"field":"i","type":"quantitative","scale":{"domain":[-6.55,196.5]},"axis":null,"title":null},"y":{"field":"a","type":"quantitative","scale":{"domain":[-15200,52000]},"axis":null,"title":null},"y2":{"datum":0}}},
{"data":{"name":"vma"},"mark":{"type":"line","color":"#3fb8a4","strokeWidth":1,"interpolate":"monotone"},
 "encoding":{"x":{"field":"i","type":"quantitative","scale":{"domain":[-6.55,196.5]},"axis":null,"title":null},"y":{"field":"b","type":"quantitative","scale":{"domain":[-15200,52000]},"axis":null,"title":null}}},
{"data":{"name":"vma"},"mark":{"type":"line","color":"#7fd8c8","strokeWidth":0.8,"interpolate":"monotone"},
 "encoding":{"x":{"field":"i","type":"quantitative","scale":{"domain":[-6.55,196.5]},"axis":null,"title":null},"y":{"field":"c","type":"quantitative","scale":{"domain":[-15200,52000]},"axis":null,"title":null}}},
{"data":{"name":"vma"},"mark":{"type":"line","color":"#e9f1ee","strokeWidth":1.3,"interpolate":"monotone"},
 "encoding":{"x":{"field":"i","type":"quantitative","scale":{"domain":[-6.55,196.5]},"axis":null,"title":null},"y":{"field":"a","type":"quantitative","scale":{"domain":[-15200,52000]},"axis":null,"title":null}}}
]},
{"layer":[
{"data":{"name":"osc"},"mark":{"type":"line","color":"#d14558","strokeWidth":1.3,"clip":true},
 "encoding":{"x":{"field":"t","type":"quantitative","scale":{"domain":[-0.64,207.7]},"axis":null,"title":null},
  "y":{"field":"v","type":"quantitative","scale":{"domain":[36.86,268.9]},"title":null,
   "axis":{"orient":"right","values":[40,50,60,70],"domain":false,"ticks":false,"labelColor":"#8c9a9c","labelFontSize":9,"labelFont":"DejaVu Sans Mono","labelPadding":6,"grid":false,"title":null}}}}
]}
],
"resolve":{"scale":{"x":"independent","y":"independent"}}
}
